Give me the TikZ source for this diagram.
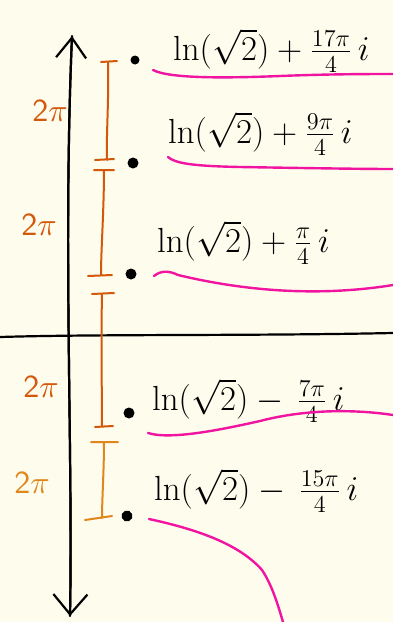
\documentclass[tikz,border=0pt]{standalone}
\usetikzlibrary{arrows.meta}
\definecolor{bg}{RGB}{254,252,237}
\definecolor{ordark}{RGB}{211,88,10}
\definecolor{orlight}{RGB}{224,134,26}
\definecolor{mag}{RGB}{240,20,160}
\newcommand{\bigexpr}[1]{\scalebox{1.68}{$#1$}}
\newcommand{\twopi}{\scalebox{3.2}{\sffamily 2$\pi$}}
\begin{document}
\begin{tikzpicture}[x=1pt,y=-1pt,
  axis/.style={line width=2.2pt,black,line cap=round},
  tick/.style={line width=2pt,line cap=round},
  under/.style={line width=2.4pt,mag,line cap=round},
  pt/.style={circle,fill=black,inner sep=0pt,minimum width=9pt,minimum height=11pt},
  expr/.style={anchor=base west,inner sep=0pt,font=\fontsize{20}{24}\selectfont},
  lab/.style={inner sep=0pt}]
\fill[bg] (0,0) rectangle (393,622);
\useasboundingbox (0,0) rectangle (393,622);
% axes
\coordinate (top) at (72,36);
\coordinate (bot) at (70,616);
\draw[axis,-{Straight Barb[length=20pt,width=30pt,line width=2.2pt]}] (bot) .. controls (73,450) and (63,250) .. (top);
\draw[axis,-{Straight Barb[length=20pt,width=34pt,line width=2.2pt]}] (top) .. controls (63,250) and (73,450) .. (bot);
\coordinate (hl) at (0,337);
\coordinate (hr) at (393,333);
\draw[axis] (hl) .. controls (100,334) and (250,336) .. (hr);
% dots
\node[pt,minimum width=7pt,minimum height=9pt] (d1) at (135,60) {};
\node[pt] (d2) at (133,163) {};
\node[pt] (d3) at (131,274) {};
\node[pt] (d4) at (129,413) {};
\node[pt,rotate=20] (d5) at (127,516) {};
% expressions
\node[expr] (t1) at (173,60) {\bigexpr{\ln(\sqrt{2})+\frac{17\pi}{4}\,i}};
\node[expr] (t2) at (168,143) {\bigexpr{\ln(\sqrt{2})+\frac{9\pi}{4}\,i}};
\node[expr] (t3) at (157,252) {\bigexpr{\ln(\sqrt{2})+\frac{\pi}{4}\,i}};
\node[expr] (t4) at (152,410) {\bigexpr{\ln(\sqrt{2})-\mkern3mu\frac{7\pi}{4}\,i}};
\node[expr] (t5) at (154,500) {\bigexpr{\ln(\sqrt{2})-\mkern3mu\frac{15\pi}{4}\,i}};
% underlines
\draw[under] (153,70) .. controls (170,79) and (230,78) .. (280,76) .. controls (330,74) and (370,74) .. (393,74);
\draw[under] (168,157) .. controls (175,163) and (190,166) .. (240,167) .. controls (300,168) and (360,169) .. (393,169);
\draw[under] (154,276) .. controls (160,271) and (168,270) .. (178,275) .. controls (220,285) and (300,300) .. (393,285);
\draw[under] (148,433) .. controls (170,440) and (220,430) .. (260,421) .. controls (310,408) and (360,410) .. (393,415);
\draw[under] (149,519) .. controls (200,530) and (240,545) .. (262,570) .. controls (272,585) and (278,605) .. (283,622);
% intervals
\draw[tick,ordark] (101,62) -- (117,61) (108,62) .. controls (109,100) and (106,140) .. (107,160) (95,160) -- (114,159);
\draw[tick,ordark] (94,170) -- (114,170) (104,170) .. controls (104,210) and (101,250) .. (101,275) (88,276) -- (112,275);
\draw[tick,ordark] (92,294) -- (114,293) (102,294) .. controls (101,340) and (102,400) .. (102,425) (95,427) -- (113,426);
\draw[tick,orlight] (91,442) -- (118,442) (104,442) .. controls (104,470) and (102,500) .. (102,518) (85,520) -- (112,516);
\node[lab,ordark] (l1) at (50,111) {\twopi};
\node[lab,ordark] (l2) at (39,225) {\twopi};
\node[lab,ordark] (l3) at (41,387) {\twopi};
\node[lab,orlight] (l4) at (32,483) {\twopi};
\end{tikzpicture}
\end{document}
